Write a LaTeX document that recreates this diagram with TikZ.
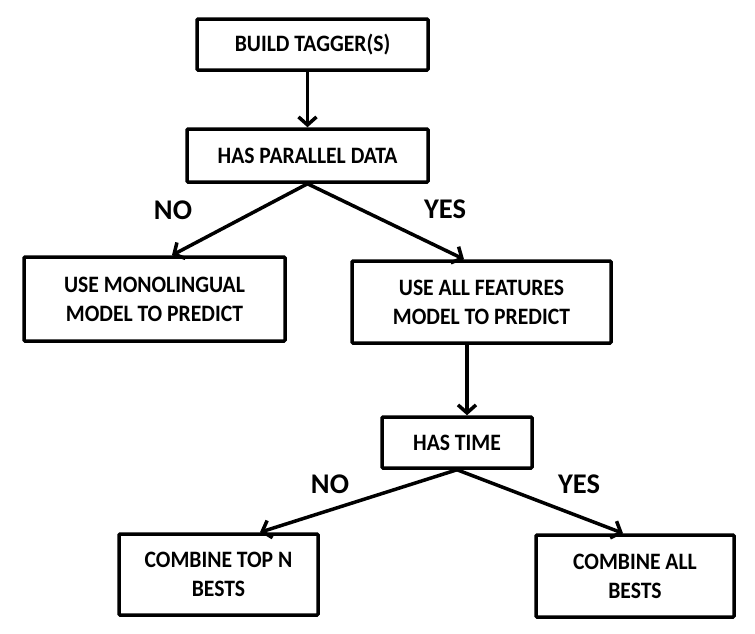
\documentclass[tikz,border=0pt]{standalone}
\usepackage{fontspec}
\setmainfont{Carlito}
\newfontfamily\boxfont{Carlito}[FakeStretch=0.92]
\usetikzlibrary{arrows.meta}
\tikzset{
  stepbox/.style={draw, line width=3.5pt, rounded corners=1pt, inner sep=0pt, align=center,
    font=\boxfont\bfseries\fontsize{23.5}{29}\selectfont},
  flow/.style={line width=3.5pt, -{Straight Barb[length=8pt,width=18pt]}},
  lbl/.style={font=\bfseries\fontsize{28.5}{30}\selectfont}
}
\begin{document}
\begin{tikzpicture}[x=1pt,y=-1pt]
\fill[white] (0,0) rectangle (755,633);
\useasboundingbox (0,0) rectangle (755,633);
\node[stepbox, minimum width=231pt, minimum height=51pt] (b1) at (312.5,44.5) {BUILD TAGGER(S)};
\node[stepbox, minimum width=241pt, minimum height=53pt] (b2) at (307.5,155.5) {HAS PARALLEL DATA};
\node[stepbox, minimum width=261pt, minimum height=84pt] (b3) at (154.5,299) {USE MONOLINGUAL\\MODEL TO PREDICT};
\node[stepbox, minimum width=259pt, minimum height=82pt] (b4) at (481.5,302) {USE ALL FEATURES\\MODEL TO PREDICT};
\node[stepbox, minimum width=150pt, minimum height=51pt] (b5) at (457,442.5) {HAS TIME};
\node[stepbox, minimum width=199pt, minimum height=81pt] (b6) at (218.5,574.5) {COMBINE TOP N\\BESTS};
\node[stepbox, minimum width=198pt, minimum height=82pt] (b7) at (635,576) {COMBINE ALL\\BESTS};

\node[lbl] (no1) at (173,210) {NO};
\node[lbl] (yes1) at (445,209) {YES};
\node[lbl] (no2) at (330,484) {NO};
\node[lbl] (yes2) at (579,484) {YES};

\draw[flow] (b2.north |- b1.south) -- (b2.north);
\draw[flow] (b2.south) -- ([xshift=17.5pt]b3.north);
\draw[flow] (b2.south) -- ([xshift=-17.5pt]b4.north);
\draw[flow] ([xshift=-14.5pt]b4.south) -- ([xshift=-14.5pt]b4.south |- b5.north);
\draw[flow] (b5.south) -- ([xshift=41.5pt]b6.north);
\draw[flow] (b5.south) -- ([xshift=-12pt]b7.north);
\end{tikzpicture}
\end{document}
